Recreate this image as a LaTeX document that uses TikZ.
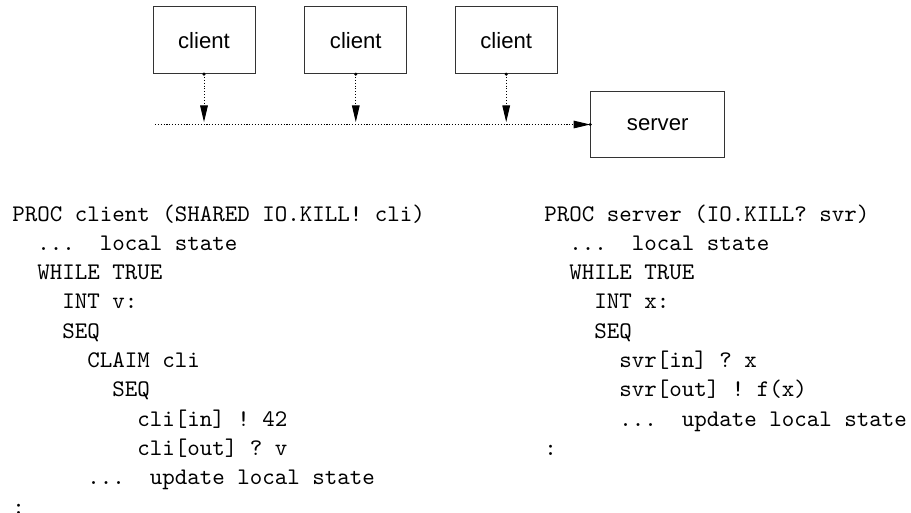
\documentclass[tikz,border=0pt]{standalone}
\usepackage{fontspec}
\newfontfamily\arialf{Liberation Sans}
\usetikzlibrary{arrows.meta}
\newlength\cw
\setlength\cw{5.25pt}
\newcommand\ind[1]{\hspace*{#1\cw}}
\newcommand\codefont{\fontsize{10}{12.31}\selectfont\ttfamily\frenchspacing}
\begin{document}
\begin{tikzpicture}[x=0.42pt,y=-0.42pt,
  box/.style={draw=black!80, line width=0.4pt, inner sep=0pt,
    minimum height=28.1pt, font=\arialf\fontsize{9.3}{11}\selectfont},
  dotline/.style={line width=0.42pt, dash pattern=on 0.45pt off 0.75pt},
  tip/.style={-{Triangle[length=7pt,width=3.2pt]}},
  code/.style={inner sep=0pt, anchor=base west}]
\useasboundingbox (0,0) rectangle (911,512);
% boxes
\node[box, minimum width=42.84pt] (c1) at (204,40.2) {client};
\node[box, minimum width=42.84pt] (c2) at (355.8,40.2) {client};
\node[box, minimum width=42.84pt] (c3) at (506.2,40.2) {client};
\node[box, minimum width=56.3pt] (srv) at (657.7,124.5) {server};
% bus line
\coordinate (start) at (155,124.5);
\draw[dotline, tip] (start) -- (srv.west);
\fill (srv.west) circle[radius=0.7pt];
\foreach \c in {c1,c2,c3}{
  \coordinate (j\c) at (\c.south |- start);
  \draw[dotline, tip, shorten >=1pt] (\c.south) -- (j\c);
  \fill (\c.south) circle[radius=0.7pt];
}
% code
\node[code] (clicode) at (12,221) {\parbox[t]{200pt}{\codefont
PROC client (SHARED IO.KILL! cli)\\
\ind{2}...~ local state\\
\ind{2}WHILE TRUE\\
\ind{4}INT v:\\
\ind{4}SEQ\\
\ind{6}CLAIM cli\\
\ind{8}SEQ\\
\ind{10}cli[in] ! 42\\
\ind{10}cli[out] ? v\\
\ind{6}...~ update local state\\
:}};
\node[code] (svrcode) at (544,221) {\parbox[t]{200pt}{\codefont
PROC server (IO.KILL? svr)\\
\ind{2}...~ local state\\
\ind{2}WHILE TRUE\\
\ind{4}INT x:\\
\ind{4}SEQ\\
\ind{6}svr[in] ? x\\
\ind{6}svr[out] ! f(x)\\
\ind{6}...~ update local state\\
:}};
\end{tikzpicture}
\end{document}
